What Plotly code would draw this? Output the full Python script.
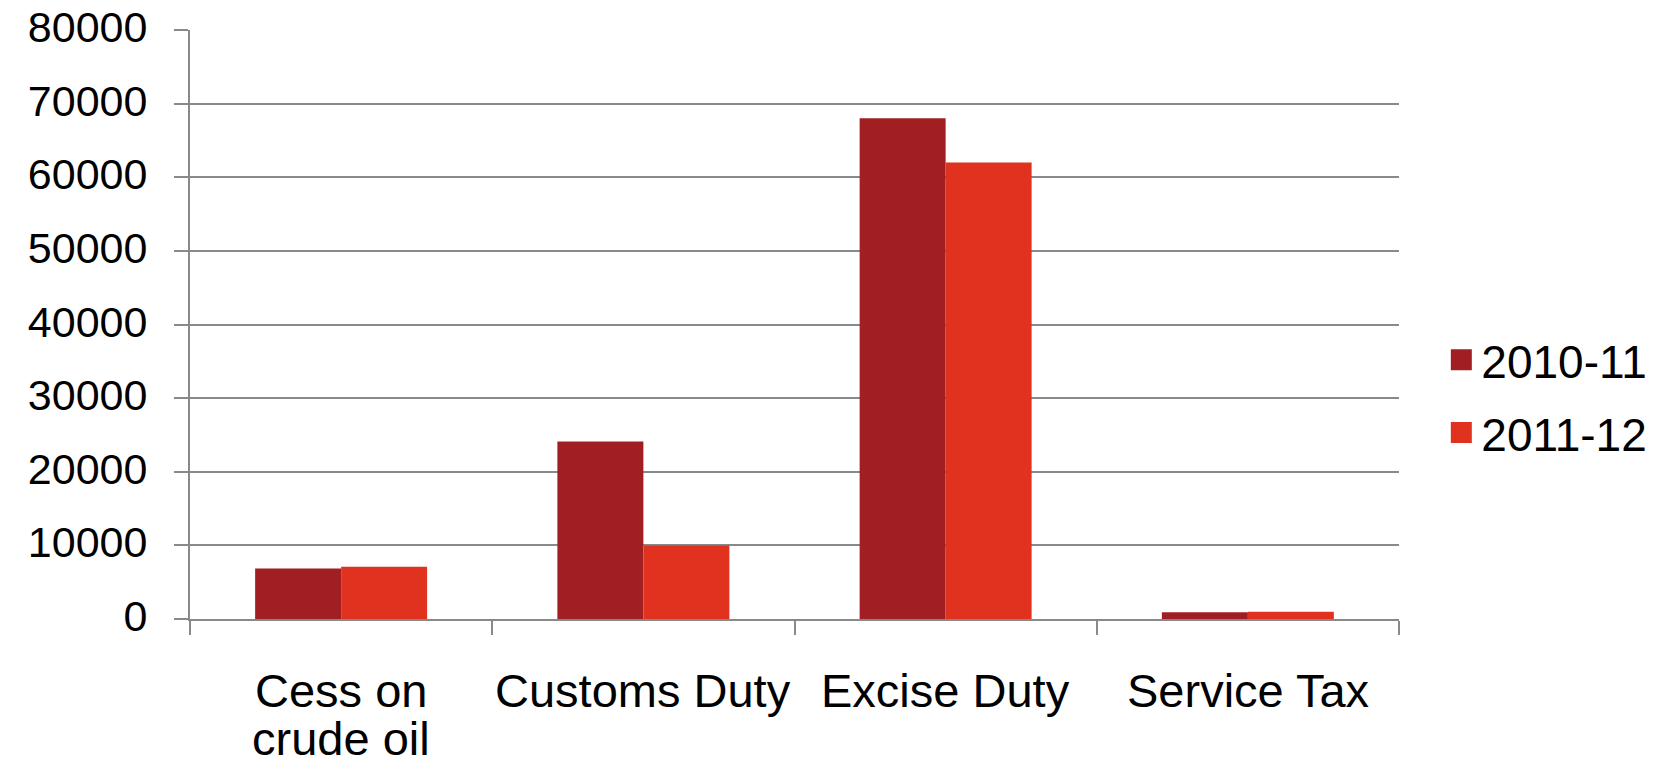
import plotly.graph_objects as go

categories = ["Cess on crude oil", "Customs Duty", "Excise Duty", "Service Tax"]
category_label_lines = [["Cess on", "crude oil"], ["Customs Duty"], ["Excise Duty"], ["Service Tax"]]
series_names = ["2010-11", "2011-12"]
values_2010_11 = [6850, 24100, 68000, 900]
values_2011_12 = [7100, 10000, 62000, 1000]
series_values = [values_2010_11, values_2011_12]
series_colors = ["#A11F22", "#E0321F"]
y_ticks = [0, 10000, 20000, 30000, 40000, 50000, 60000, 70000, 80000]

FONT = "Liberation Sans, Arial, sans-serif"
GRID = "#898989"

fig = go.Figure()
for name, vals, col in zip(series_names, series_values, series_colors):
    fig.add_trace(go.Bar(x=categories, y=vals, name=name, marker_color=col,
                         marker_line_width=0, showlegend=False))
# legend entries (larger square symbols)
for i, (name, col) in enumerate(zip(series_names, series_colors)):
    fig.add_trace(go.Scatter(x=[None], y=[None], mode="markers", name=name,
                             legendgroup="g%d" % i,
                             marker=dict(symbol="square", size=16, color=col,
                                         line=dict(color=col, width=5))))

# category labels as annotations (tight line spacing)
for cat, lines in zip(categories, category_label_lines):
    for j, txt in enumerate(lines):
        fig.add_annotation(x=cat, xref="x", y=0, yref="paper", text=txt,
                           showarrow=False, yanchor="middle", xanchor="center",
                           yshift=[-71, -119][j], borderpad=0,
                           font=dict(family=FONT, size=47, color="#000000"))

fig.update_layout(
    width=1665, height=763,
    margin=dict(l=190, r=266, t=30, b=144, autoexpand=False),
    paper_bgcolor="white", plot_bgcolor="white",
    barmode="group", bargap=0.431, bargroupgap=0,
    font=dict(family=FONT, color="#000000"),
    legend=dict(x=1.035, xanchor="left", y=0.378, yanchor="middle",
                font=dict(family=FONT, size=46, color="#000000"),
                tracegroupgap=10, traceorder="grouped",
                bgcolor="rgba(0,0,0,0)", itemsizing="trace"),
    xaxis=dict(showticklabels=False, ticks="outside", tickson="boundaries",
               ticklen=14, tickwidth=2, tickcolor=GRID, showgrid=False,
               showline=True, linecolor=GRID, linewidth=2, zeroline=False),
    yaxis=dict(range=[0, 80000], tickvals=y_ticks, ticktext=[str(v) for v in y_ticks],
               showgrid=True, gridcolor=GRID, gridwidth=1.5,
               ticks="outside", ticklen=14, tickwidth=1.5, tickcolor=GRID,
               showline=True, linecolor=GRID, linewidth=2, zeroline=False,
               ticklabelstandoff=18, ticklabelshift=-3,
               tickfont=dict(family=FONT, size=43, color="#000000")),
)

fig.write_html("out.html")
